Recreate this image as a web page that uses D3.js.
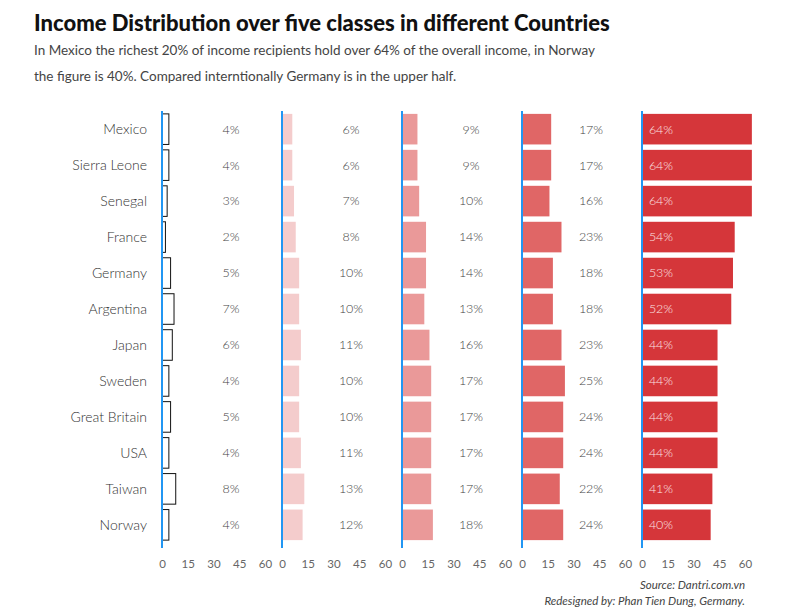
<!DOCTYPE html>
<html><head><meta charset="utf-8">
<script src="https://cdn.jsdelivr.net/npm/d3@7"></script>
<style>body{margin:0;background:#fff;font-family:Lato,sans-serif}</style>
</head><body>
<svg id="chart" width="792" height="612"></svg>
<script>
const countries = ["Mexico","Sierra Leone","Senegal","France","Germany","Argentina","Japan","Sweden","Great Britain","USA","Taiwan","Norway"];
const q1 = [4,4,3,2,5,7,6,4,5,4,8,4];
const q2 = [6,6,7,8,10,10,11,10,10,11,13,12];
const q3 = [9,9,10,14,14,13,16,17,17,17,17,18];
const q4 = [17,17,16,23,18,18,23,25,24,24,22,24];
const q5 = [64,64,64,54,53,52,44,44,44,44,41,40];
const ticks = [0,15,30,45,60];
const fills = ["#ffffff","#f4cccc","#ea9999","#e06666","#d5363a"];

const svg = d3.select("#chart");
svg.append("text").attr("x",34).attr("y",31).attr("font-size",22).attr("font-weight",900).attr("fill","#111")
  .text("Income Distribution over five classes in different Countries");
svg.append("text").attr("x",34).attr("y",55).attr("font-size",13.5).attr("fill","#444")
  .text("In Mexico the richest 20% of income recipients hold over 64% of the overall income, in Norway");
svg.append("text").attr("x",34).attr("y",81).attr("font-size",13.5).attr("fill","#444")
  .text("the figure is 40%. Compared interntionally Germany is in the upper half.");

const y = d3.scaleBand().domain(countries).range([111,543]).paddingInner(0.15).paddingOuter(0.08);
const panelX = d3.scaleBand().domain(d3.range(5)).range([162,762]);
const x = d3.scaleLinear().domain([0,60]).range([0,103]);

svg.append("g").selectAll("text").data(countries).join("text")
  .attr("x",147).attr("y",d=>y(d)+y.bandwidth()/2).attr("dy","0.35em")
  .attr("text-anchor","end").attr("font-size",14).attr("font-weight",300).attr("fill","#333").text(d=>d);

[q1,q2,q3,q4,q5].forEach((vals,i)=>{
  const g = svg.append("g").attr("transform",`translate(${panelX(i)},0)`);
  g.selectAll("rect").data(vals).join("rect")
    .attr("x",0).attr("y",(d,j)=>y(countries[j])).attr("height",y.bandwidth())
    .attr("width",d=>x(d)).attr("fill",fills[i])
    .attr("stroke",i===0?"#111":"none").attr("stroke-width",1);
  g.selectAll("text.v").data(vals).join("text").attr("class","v")
    .attr("x",i===4?19:69).attr("y",(d,j)=>y(countries[j])+y.bandwidth()/2).attr("dy","0.35em")
    .attr("text-anchor","middle").attr("font-size",12.5).attr("font-weight",300)
    .attr("fill",i===4?"#fbe3e3":"#444").text(d=>d+"%");
  g.append("line").attr("x1",0).attr("x2",0).attr("y1",111).attr("y2",548)
    .attr("stroke","#2196f3").attr("stroke-width",2);
  const ax = g.append("g").attr("transform","translate(0,548)")
    .call(d3.axisBottom(x).tickValues(ticks).tickSize(0).tickPadding(12));
  ax.select(".domain").remove();
  ax.selectAll("text").attr("font-size",11.5).attr("fill","#666").attr("font-family","Lato,sans-serif");
});

svg.append("text").attr("x",745).attr("y",589).attr("text-anchor","end").attr("font-size",11.5)
  .attr("font-style","italic").attr("fill","#444").text("Source: Dantri.com.vn");
svg.append("text").attr("x",745).attr("y",605).attr("text-anchor","end").attr("font-size",11.5)
  .attr("font-style","italic").attr("fill","#444").text("Redesigned by: Phan Tien Dung, Germany.");
</script>
</body></html>
